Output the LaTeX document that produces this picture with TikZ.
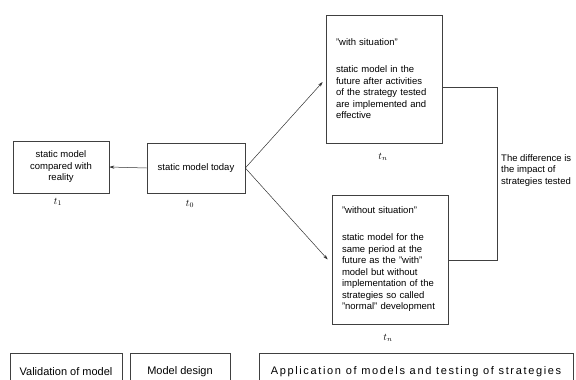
\documentclass[tikz,border=0pt]{standalone}
\usepackage{fontspec}
\setmainfont{Liberation Sans}
\newfontfamily\widefont[LetterSpace=15]{Liberation Sans}
\usetikzlibrary{arrows.meta,positioning,calc}

\begin{document}
\begin{tikzpicture}[
  x=1pt, y=-1pt,
  >={Stealth[length=5pt,width=3.2pt]},
  font=\fontsize{9.5}{11.5}\selectfont,
  box/.style={draw=black!75,rectangle,align=center,inner sep=0pt,line width=0.6pt},
  txtbox/.style={box,align=left,text width=96pt},
  phase/.style={draw=black!75,rectangle,inner sep=0pt,line width=0.6pt,font=\fontsize{11}{13}\selectfont},
  tlab/.style={inner sep=0pt,font=\normalsize},
  arr/.style={->,line width=0.5pt,draw=black!80},
  link/.style={line width=0.6pt,draw=black!75}
]
  % page is 576 x 380, y runs downwards
  \useasboundingbox (0,0) rectangle (576,380);

  \node[box,minimum width=96pt,minimum height=52pt] (reality) at (61,167)
    {static model\\compared with\\reality};
  \node[box,minimum width=98pt,minimum height=50pt] (today) at (196,168)
    {static model today};

  \node[txtbox,minimum width=116pt,minimum height=128pt] (with) at (384,79)
    {"with situation"\\[15.5pt]
     static model in the\\future after activities\\of the strategy tested\\are implemented and\\effective};
  \node[txtbox,minimum width=116pt,minimum height=129pt] (without) at (390,259.5)
    {"without situation"\\[15.5pt]
     static model for the\\same period at the\\future as the "with"\\model but without\\implementation of the\\strategies so called\\"normal" development};

  \node[tlab] (t1) at (58,202) {$t_1$};
  \node[tlab] (t0) at (190,204) {$t_0$};
  \node[tlab] (tn1) at (383,157) {$t_n$};
  \node[tlab] (tn2) at (388,338) {$t_n$};

  \draw[arr] (today.west) -- (reality.east);
  \draw[arr] (today.east) -- ([shift={(-3,3)}]with.west);
  \draw[arr] (today.east) -- ([xshift=-4pt]without.west);

  \coordinate (dtop) at (497,87);
  \coordinate (dbot) at (497,260);
  \draw[link] (with.east |- dtop) -- (dtop) -- (dbot) -- (without.east |- dbot);
  \node[anchor=north west,align=left,inner sep=0pt] (impact) at (501,154)
    {The difference is\\the impact of\\strategies tested};

  % phases along the bottom, cut by the page edge
  \node[phase,minimum width=112pt,minimum height=38pt] (validation) at (66,372)
    {Validation of model};
  \node[phase,minimum width=100pt,minimum height=38pt] (design) at (180,372)
    {Model design};
  \node[phase,minimum width=314pt,minimum height=38pt] (application) at (416,372)
    {\widefont Application of models and testing of strategies};
\end{tikzpicture}
\end{document}
